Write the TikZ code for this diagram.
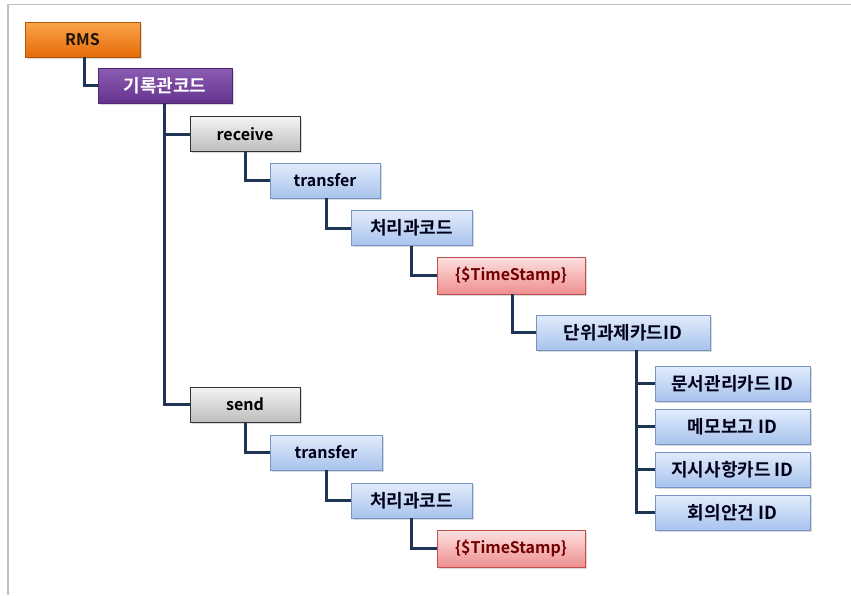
\documentclass[tikz,border=0pt]{standalone}
\usepackage{fontspec}
\setmainfont{Noto Sans CJK KR}[BoldFont={Noto Sans CJK KR Bold}]
\usetikzlibrary{shadows}
\definecolor{linknavy}{HTML}{1F3556}
\definecolor{rmstop}{HTML}{FBA44A}
\definecolor{rmsbot}{HTML}{E46C0A}
\definecolor{purtop}{HTML}{8C5DB4}
\definecolor{purbot}{HTML}{64338E}
\definecolor{graytop}{HTML}{F4F4F4}
\definecolor{graybot}{HTML}{BDBDBD}
\definecolor{bluetop}{HTML}{E2ECFB}
\definecolor{bluebot}{HTML}{A8C3EE}
\definecolor{blueedge}{HTML}{7795C4}
\definecolor{redtop}{HTML}{FDE0E0}
\definecolor{redbot}{HTML}{EF8F8F}
\definecolor{rededge}{HTML}{C05050}
\tikzset{
  box/.style={minimum height=35pt, inner sep=2pt, line width=0.9pt, font=\bfseries\fontsize{16}{18}\selectfont,
    drop shadow={opacity=0.3, shadow xshift=1.5pt, shadow yshift=-1.5pt}},
  kr/.style={font=\bfseries\fontsize{18}{20}\selectfont},
  rmsbox/.style={box, draw=rmsbot!80!black, top color=rmstop, bottom color=rmsbot, text=black!85!brown},
  purbox/.style={box, draw=purbot!80!black, top color=purtop, bottom color=purbot, text=white},
  graybox/.style={box, draw=black!80, top color=graytop, bottom color=graybot, text=black},
  bluebox/.style={box, draw=blueedge, top color=bluetop, bottom color=bluebot, text=black!90!blue},
  redbox/.style={box, draw=rededge, top color=redtop, bottom color=redbot, text=red!45!black},
  link/.style={draw=linknavy, line width=3pt}
}
\begin{document}
\begin{tikzpicture}[x=1pt,y=-1pt]
	\useasboundingbox (0,0) rectangle (851,595);
	\draw[black!25, line width=1.3pt] (8,595) -- (8,4.5) -- (851,4.5);
	% top of the tree
	\node[rmsbox, minimum width=115pt] (rms) at (82.5,39.5) {RMS};
	\node[purbox, kr, minimum width=134pt] (code) at (165,85.5) {기록관코드};
	% receive branch
	\node[graybox, minimum width=110pt] (recv) at (245,134) {receive};
	\node[bluebox, minimum width=110pt] (rtrans) at (325,180.5) {transfer};
	\node[bluebox, kr, minimum width=121pt] (rproc) at (411.5,228) {처리과코드};
	\node[redbox, minimum width=148pt, minimum height=37pt] (rstamp) at (511,275.5) {\{\$TimeStamp\}};
	\node[bluebox, kr, minimum width=174pt] (unit) at (623,332.5) {단위과제카드ID};
	\node[bluebox, kr, minimum width=155pt] (doc) at (732.5,383.5) {문서관리카드 ID};
	\node[bluebox, kr, minimum width=155pt] (memo) at (732.5,426.5) {메모보고 ID};
	\node[bluebox, kr, minimum width=155pt] (order) at (732.5,469.5) {지시사항카드 ID};
	\node[bluebox, kr, minimum width=155pt] (meet) at (732.5,512.5) {회의안건 ID};
	% send branch
	\node[graybox, minimum width=110pt] (send) at (245,404.5) {send};
	\node[bluebox, minimum width=112pt] (strans) at (326,452.5) {transfer};
	\node[bluebox, kr, minimum width=121pt] (sproc) at (411.5,500.5) {처리과코드};
	\node[redbox, minimum width=148pt, minimum height=37pt] (sstamp) at (511,548.5) {\{\$TimeStamp\}};
	% connectors
	\draw[link] ([xshift=1.5pt]rms.south) |- (code.west);
	\draw[link] ([xshift=-1pt]code.south) |- (recv.west);
	\draw[link] ([xshift=-1pt]code.south) |- (send.west);
	\draw[link] (recv.south) |- (rtrans.west);
	\draw[link] ([xshift=1pt]rtrans.south) |- (rproc.west);
	\draw[link] (rproc.south) |- (rstamp.west);
	\draw[link] ([xshift=1pt]rstamp.south) |- (unit.west);
	\foreach \leaf in {doc,memo,order,meet}
		\draw[link] ([xshift=13pt]unit.south) |- (\leaf.west);
	\draw[link] (send.south) |- (strans.west);
	\draw[link] (strans.south) |- (sproc.west);
	\draw[link] (sproc.south) |- (sstamp.west);
\end{tikzpicture}
\end{document}
